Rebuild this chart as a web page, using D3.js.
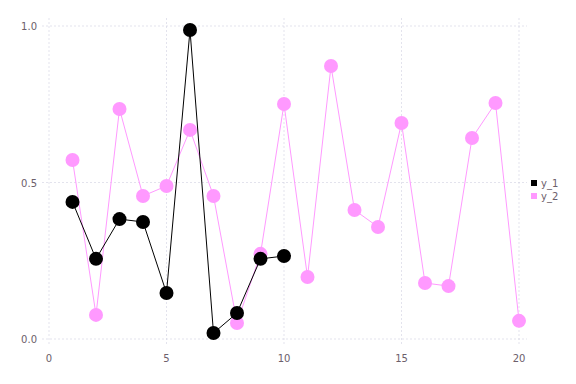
<!DOCTYPE html>
<html>
<head>
<meta charset="utf-8">
<script src="https://cdn.jsdelivr.net/npm/d3@7"></script>
<style>
  body { margin: 0; background: #fff; }
  text { font-family: "DejaVu Sans", sans-serif; }
</style>
</head>
<body>
<div id="chart"></div>
<script>
// data
const x_1 = [1, 2, 3, 4, 5, 6, 7, 8, 9, 10];
const y_1 = [0.438, 0.256, 0.383, 0.374, 0.147, 0.987, 0.019, 0.083, 0.256, 0.265];
const x_2 = [1, 2, 3, 4, 5, 6, 7, 8, 9, 10, 11, 12, 13, 14, 15, 16, 17, 18, 19, 20];
const y_2 = [0.572, 0.077, 0.735, 0.457, 0.489, 0.668, 0.457, 0.051, 0.272, 0.751,
             0.198, 0.872, 0.412, 0.358, 0.690, 0.179, 0.169, 0.642, 0.754, 0.058];
const xTicks = [0, 5, 10, 15, 20];
const yTicks = [0.0, 0.5, 1.0];
const seriesNames = ["y_1", "y_2"];
const seriesColors = ["#000000", "#ff99ff"];

var width = 576, height = 384;
var labelColor = "#6c606b", gridColor = "#d0d0e0";

var svg = d3.select("#chart").append("svg")
    .attr("width", width)
    .attr("height", height);

var x = d3.scaleLinear().domain([0, 20]).range([49, 519]);
var y = d3.scaleLinear().domain([0, 1]).range([339, 26]);

// grid lines
svg.append("g").selectAll("line").data(xTicks).join("line")
    .attr("x1", d => x(d)).attr("x2", d => x(d))
    .attr("y1", 18).attr("y2", 346)
    .attr("stroke", gridColor).attr("stroke-width", 0.6)
    .attr("stroke-dasharray", "2,2");
svg.append("g").selectAll("line").data(yTicks).join("line")
    .attr("y1", d => y(d)).attr("y2", d => y(d))
    .attr("x1", 42).attr("x2", 527)
    .attr("stroke", gridColor).attr("stroke-width", 0.6)
    .attr("stroke-dasharray", "2,2");

// tick labels
svg.append("g").selectAll("text").data(xTicks).join("text")
    .attr("x", d => x(d)).attr("y", 362)
    .attr("text-anchor", "middle")
    .style("font-size", "10px").style("fill", labelColor)
    .text(d => d);
svg.append("g").selectAll("text").data(yTicks).join("text")
    .attr("x", 37).attr("y", d => y(d) + 4)
    .attr("text-anchor", "end")
    .style("font-size", "10px").style("fill", labelColor)
    .text(d => d3.format(".1f")(d));

var line = d3.line().x(d => x(d[0])).y(d => y(d[1]));

// pink series first so the black one sits on top
function drawSeries(xs, ys, color) {
    var pts = xs.map((v, i) => [v, ys[i]]);
    svg.append("path").datum(pts)
        .attr("d", line)
        .attr("fill", "none")
        .attr("stroke", color)
        .attr("stroke-width", 1);
    svg.append("g").selectAll("circle").data(pts).join("circle")
        .attr("cx", d => x(d[0]))
        .attr("cy", d => y(d[1]))
        .attr("r", 7)
        .attr("fill", color);
}
drawSeries(x_2, y_2, seriesColors[1]);
drawSeries(x_1, y_1, seriesColors[0]);

// legend
var legend = svg.append("g").attr("transform", "translate(531,180)");
seriesNames.forEach(function(name, i) {
    legend.append("rect")
        .attr("x", 0).attr("y", i * 13)
        .attr("width", 6).attr("height", 6)
        .attr("fill", seriesColors[i]);
    legend.append("text")
        .attr("x", 10).attr("y", i * 13 + 7)
        .style("font-size", "10px").style("fill", labelColor)
        .text(name);
});
</script>
</body>
</html>
